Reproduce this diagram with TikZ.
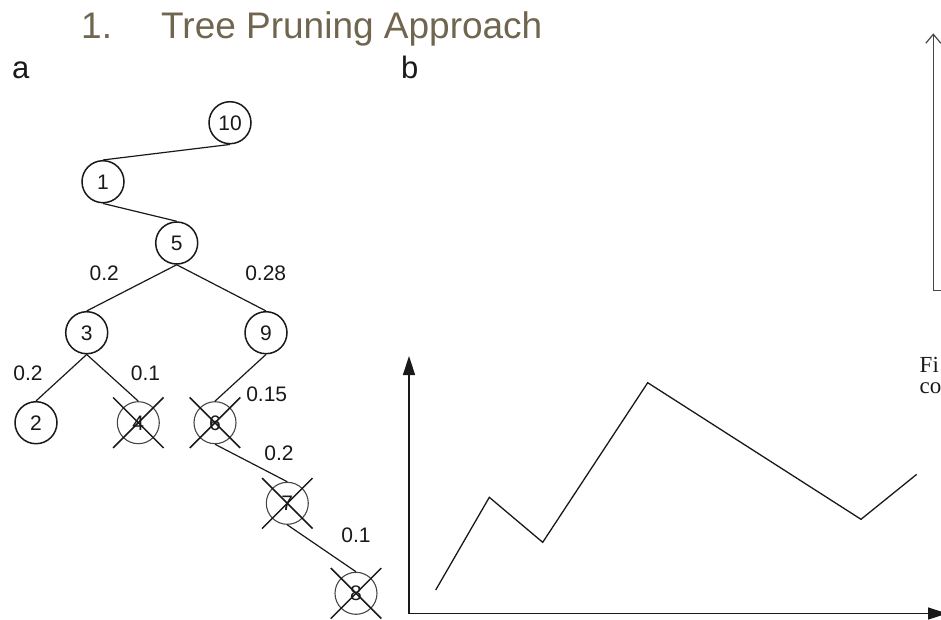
\documentclass[tikz,border=0pt]{standalone}
\usepackage{fontspec}
\setmainfont{Liberation Sans}
\newfontfamily\captionserif{Liberation Serif}
\usetikzlibrary{arrows.meta,shapes.misc}
\definecolor{titlebrown}{RGB}{112,101,79}
\definecolor{ink}{RGB}{25,25,25}
\definecolor{axisgrey}{RGB}{70,70,70}
\begin{document}
\begin{tikzpicture}[x=1pt,y=-1pt,
  tnode/.style={circle, draw=ink, line width=1.5pt, minimum size=42pt, inner sep=0pt,
    font=\fontsize{21}{21}\selectfont, text height=15pt, text depth=0pt, text=ink},
  pruned/.style={tnode, draw=axisgrey, line width=1.1pt},
  xmark/.style={cross out, draw=ink, line width=1.5pt, minimum size=49pt, inner sep=0pt},
  edge/.style={draw=ink, line width=1.2pt},
  wlabel/.style={font=\fontsize{21}{21}\selectfont, text height=15pt, text depth=0pt,
    inner sep=0pt, text=ink},
  panel/.style={anchor=base west, inner sep=0pt, font=\fontsize{31}{31}\selectfont, text=ink},
  heading/.style={anchor=base west, inner sep=0pt, font=\fontsize{37}{37}\selectfont, text=titlebrown},
  caption/.style={anchor=base west, inner sep=0pt, text height=14pt, text depth=0pt,
    font=\captionserif\fontsize{23}{20}\selectfont, text=ink},
  mainaxis/.style={draw=ink, line width=1.5pt},
  series/.style={draw=ink, line width=1.3pt, line join=miter},
  sideaxis/.style={draw=axisgrey, line width=1.2pt}
]
\useasboundingbox (0,0) rectangle (941,619);

% heading and panel letters
\node[heading] (hnum) at (81,38) {1.};
\node[heading] (htext) at (161,38) {Tree Pruning Approach};
\node[panel] (pa) at (12,78) {a};
\node[panel] (pb) at (401,78) {b};

% tree nodes
\node[tnode] (n10) at (230,122.7) {10};
\node[tnode] (n1) at (103,181.7) {1};
\node[tnode] (n5) at (176.7,243) {5};
\node[tnode] (n3) at (86.7,332.7) {3};
\node[tnode] (n9) at (266,332.7) {9};
\node[tnode] (n2) at (36,422.7) {2};
\node[pruned] (n4) at (138.3,422.7) {4};
\node[pruned] (n6) at (215,422.7) {6};
\node[pruned] (n7) at (287.3,503.3) {7};
\node[pruned] (n8) at (356,593.3) {8};

% pruned nodes are crossed out
\node[xmark] (x4) at (n4) {};
\node[xmark] (x6) at (n6) {};
\node[xmark] (x7) at (n7) {};
\node[xmark] (x8) at (n8) {};

% tree edges
\draw[edge] (n10.south) -- (n1.north);
\draw[edge] (n1.south) -- (n5.north);
\draw[edge] (n5.south) -- (n3.north);
\draw[edge] (n5.south) -- (n9.north);
\draw[edge] (n3.south) -- (n2.north);
\draw[edge] (n3.south) -- (n4.north);
\draw[edge] (n9.south) -- (n6.north);
\draw[edge] (n6.south) -- (n7.north);
\draw[edge] (n7.south) -- (n8.north);

% edge weights
\node[wlabel] (w53) at (104.3,273.3) {0.2};
\node[wlabel] (w59) at (265.7,273.3) {0.28};
\node[wlabel] (w32) at (28,372.5) {0.2};
\node[wlabel] (w34) at (145.5,372.5) {0.1};
\node[wlabel] (w96) at (266.7,394) {0.15};
\node[wlabel] (w67) at (279,453) {0.2};
\node[wlabel] (w78) at (356,535) {0.1};

% chart in panel b
\coordinate (ytop) at (409,356);
\coordinate (origin) at (409,613.5);
\coordinate (xend) at (947,613.5);
\draw[mainaxis, {Triangle[length=19pt,width=12pt]}-{Triangle[length=19pt,width=12pt]}]
  (ytop) -- (origin) -- (xend);
\coordinate (p1) at (435.7,590);
\coordinate (p2) at (489.3,497.3);
\coordinate (p3) at (542.7,542.3);
\coordinate (p4) at (647.7,382.7);
\coordinate (p5) at (861,519.3);
\coordinate (p6) at (916.7,474.3);
\draw[series] (p1) -- (p2) -- (p3) -- (p4) -- (p5) -- (p6);

% axes at the right edge
\coordinate (vtop) at (933.3,33.3);
\coordinate (vcorner) at (933.3,290.7);
\coordinate (hend) at (945,290.7);
\draw[sideaxis, -{Straight Barb[length=9pt,width=15pt]}] (hend) -- (vcorner) -- (vtop);

% caption lines
\node[caption] (cap1) at (919.5,372) {Fi};
\node[caption] (cap2) at (919.5,393) {co};
\end{tikzpicture}
\end{document}
